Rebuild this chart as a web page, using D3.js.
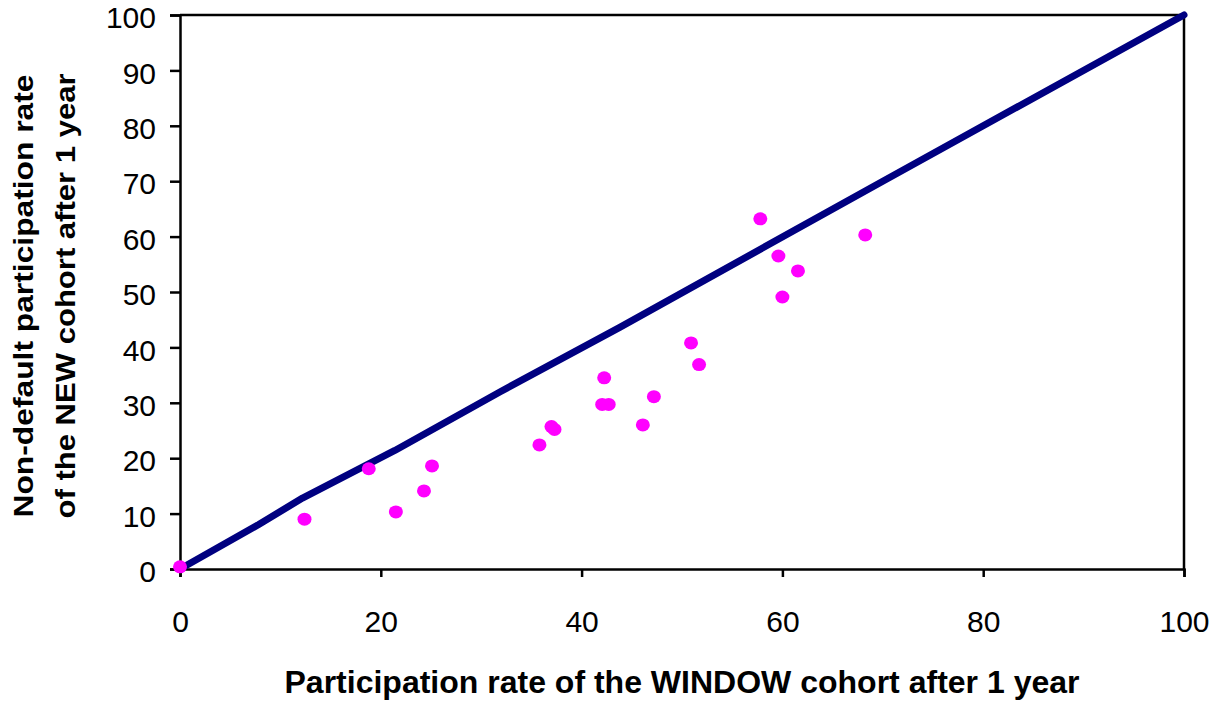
<!DOCTYPE html>
<html>
<head>
<meta charset="utf-8">
<script src="https://cdn.jsdelivr.net/npm/d3@7"></script>
<style>
  html, body { margin: 0; padding: 0; background: #fff; }
  svg { display: block; }
</style>
</head>
<body>
<svg id="chart" width="1225" height="707"></svg>
<script>
// Scatter points: participation rate of WINDOW cohort (x) vs non-default NEW cohort (y)
const windowRate = [0, 12.4, 18.8, 21.5, 24.3, 25.1, 35.8, 37.0, 37.3, 42.25, 42.05, 42.7, 46.1, 47.2, 50.9, 51.7, 57.8, 59.6, 60.0, 61.55, 68.25];
const newRate    = [0.4, 9.0, 18.1, 10.3, 14.1, 18.6, 22.4, 25.7, 25.2, 34.5, 29.7, 29.7, 26.0, 31.1, 40.8, 36.9, 63.2, 56.5, 49.1, 53.8, 60.3];

// 45-degree reference line (as drawn, with its small kinks)
const refX = [0, 7.8, 12.2, 21.4, 31.9, 43.8, 70, 100];
const refY = [0, 8.0, 12.8, 21.4, 32.0, 43.6, 70, 100];

const xTicks = [0, 20, 40, 60, 80, 100];
const yTicks = [0, 10, 20, 30, 40, 50, 60, 70, 80, 90, 100];

const xTitle = "Participation rate of the WINDOW cohort after 1 year";
const yTitle1 = "Non-default participation rate";
const yTitle2 = "of the NEW cohort after 1 year";

(function () {
const svg = d3.select("#chart");
const mL = 180, mR = 1184, mT = 15, mB = 569;

const x = d3.scaleLinear().domain([0, 100]).range([mL, mR]);
const y = d3.scaleLinear().domain([0, 100]).range([mB, mT]);

const font = "'Liberation Sans', Arial, Helvetica, sans-serif";

// frame (top and right)
svg.append("path")
  .attr("d", `M${mL},${mT}H${mR}V${mB}`)
  .attr("fill", "none").attr("stroke", "#000").attr("stroke-width", 2.5);

// x axis
const xAxis = svg.append("g")
  .attr("transform", `translate(0,${mB})`)
  .call(d3.axisBottom(x).tickValues(xTicks).tickSize(8).tickPadding(34).tickFormat(d3.format("d")));
xAxis.select(".domain").attr("stroke-width", 2.5);
xAxis.selectAll(".tick line").attr("stroke-width", 2.5);
xAxis.selectAll("text").attr("font-family", font).attr("font-size", 30).attr("fill", "#000");

// y axis
const yAxis = svg.append("g")
  .attr("transform", `translate(${mL},0)`)
  .call(d3.axisLeft(y).tickValues(yTicks).tickSize(10).tickPadding(14).tickFormat(d3.format("d")));
yAxis.select(".domain").attr("stroke-width", 2.5);
yAxis.selectAll(".tick line").attr("stroke-width", 2.5);
yAxis.selectAll("text").attr("font-family", font).attr("font-size", 30).attr("fill", "#000")
  .attr("dy", "0.42em");

// reference line
const refData = refX.map((v, i) => [v, refY[i]]);
svg.append("path")
  .datum(refData)
  .attr("d", d3.line().x(d => x(d[0])).y(d => y(d[1])))
  .attr("fill", "none")
  .attr("stroke", "#000080")
  .attr("stroke-width", 7)
  .attr("stroke-linecap", "round")
  .attr("stroke-linejoin", "round");

// points
const pts = windowRate.map((v, i) => [v, newRate[i]]);
svg.append("g").selectAll("ellipse")
  .data(pts)
  .join("ellipse")
  .attr("cx", d => x(d[0]))
  .attr("cy", d => y(d[1]))
  .attr("rx", 7)
  .attr("ry", 6.5)
  .attr("fill", "#FF00FF");

// axis titles
svg.append("text")
  .attr("x", (mL + mR) / 2)
  .attr("y", 693)
  .attr("text-anchor", "middle")
  .attr("font-family", font)
  .attr("font-weight", "bold")
  .attr("font-size", 31)
  .attr("textLength", 795)
  .attr("lengthAdjust", "spacingAndGlyphs")
  .text(xTitle);

const cy = (mT + mB) / 2 + 4;
svg.append("text")
  .attr("transform", `translate(33,${cy}) rotate(-90)`)
  .attr("text-anchor", "middle")
  .attr("font-family", font)
  .attr("font-weight", "bold")
  .attr("font-size", 28)
  .attr("textLength", 443)
  .attr("lengthAdjust", "spacingAndGlyphs")
  .text(yTitle1);
svg.append("text")
  .attr("transform", `translate(75,${cy}) rotate(-90)`)
  .attr("text-anchor", "middle")
  .attr("font-family", font)
  .attr("font-weight", "bold")
  .attr("font-size", 28)
  .attr("textLength", 445)
  .attr("lengthAdjust", "spacingAndGlyphs")
  .text(yTitle2);
})();
</script>
</body>
</html>
